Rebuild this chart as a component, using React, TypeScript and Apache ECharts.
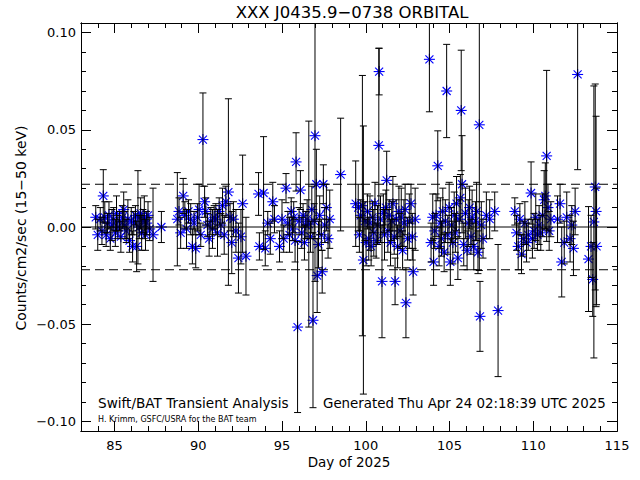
import React, { useEffect, useRef } from "react";
import * as echarts from "echarts";

// ---- data (day, rate, 1-sigma error) ----
const days = [
  83.88, 84.0, 84.15, 84.25, 84.33, 84.42, 84.5, 84.58, 84.67, 84.75, 84.85, 84.95, 85.05, 85.12, 85.2, 85.3, 85.38, 85.47, 85.55, 85.62,
  85.7, 85.8, 85.9, 86.0, 86.08, 86.15, 86.25, 86.32, 86.4, 86.48, 86.56, 86.62, 86.7, 86.78, 86.85, 86.92, 87.0, 87.1, 87.3, 87.8,
  88.75, 88.85, 88.95, 89.1, 89.2, 89.3, 89.42, 89.55, 89.65, 89.75, 89.85, 89.95, 90.05, 90.15, 90.28, 90.38, 90.45, 90.55, 90.65, 90.75,
  90.85, 90.95, 91.05, 91.15, 91.25, 91.35, 91.45, 91.55, 91.65, 91.8, 91.9, 92.0, 92.1, 92.25, 92.4, 92.55, 92.65, 92.85,
  93.6, 93.65, 93.9, 94.0, 94.15, 94.3, 94.45, 94.55,
  94.85, 95.0, 95.1, 95.24, 95.35, 95.45, 95.55, 95.62, 95.7, 95.78, 95.84, 95.93, 96.02, 96.1, 96.18, 96.26, 96.34, 96.42, 96.5, 96.6,
  96.7, 96.78, 96.85, 96.92, 96.97, 97.05, 97.1, 97.18, 97.25, 97.35, 97.4, 97.47, 97.55, 97.65, 97.75, 97.85, 98.5,
  99.4, 99.55, 99.62, 99.7, 99.8, 99.86, 99.95, 100.02, 100.1, 100.18, 100.25, 100.32, 100.4, 100.48, 100.55, 100.62, 100.7, 100.78, 100.8, 100.88,
  100.97, 101.05, 101.12, 101.2, 101.25, 101.32, 101.4, 101.48, 101.55, 101.62, 101.7, 101.75, 101.82, 101.9, 101.98, 102.05, 102.12, 102.2, 102.28, 102.35,
  102.4, 102.5, 102.6, 102.7, 102.78, 102.83, 102.95,
  103.8, 103.9, 104.0, 104.05, 104.12, 104.2, 104.3, 104.38, 104.45, 104.52, 104.6, 104.68, 104.75, 104.83, 104.9, 104.98, 105.05, 105.12, 105.2, 105.28,
  105.35, 105.42, 105.5, 105.58, 105.65, 105.7, 105.75, 105.85, 105.95, 106.05, 106.12, 106.2, 106.28, 106.35, 106.45, 106.55, 106.62, 106.7, 106.78, 106.82,
  106.9, 107.0, 107.2, 107.4, 107.7, 107.9,
  108.9, 109.0, 109.1, 109.2, 109.3, 109.4, 109.5, 109.6, 109.7, 109.87, 109.95, 110.05, 110.15, 110.25, 110.35, 110.45, 110.55, 110.65, 110.72, 110.8,
  110.88, 110.95, 111.05,
  111.45, 111.6, 111.7, 111.85, 112.0, 112.2, 112.3, 112.4, 112.5, 112.65,
  113.3, 113.45, 113.55, 113.62, 113.7, 113.75, 113.78,
];
const rates = [
  0.005, -0.004, 0.004, -0.002, 0.016, 0.005, -0.004, 0.002, 0.006, -0.006, 0.001, 0.004, -0.003, 0.007, 0.0, 0.003, -0.005, 0.005, 0.009, 0.001,
  -0.002, 0.004, -0.007, 0.003, -0.01, 0.002, 0.006, -0.01, 0.005, 0.0, 0.007, -0.003, 0.003, 0.005, -0.004, 0.002, 0.006, -0.001, -0.004, 0.0,
  0.004, 0.008, -0.003, 0.016, 0.006, -0.001, 0.008, 0.004, -0.01, 0.002, -0.011, 0.005, 0.009, -0.004, 0.045, 0.013, 0.008, 0.001, -0.006, 0.003,
  -0.001, 0.005, 0.004, -0.003, 0.008, 0.001, 0.011, -0.004, 0.013, 0.018, 0.005, -0.008, 0.004, -0.002, -0.016, -0.005, 0.012, -0.015,
  0.017, -0.01, 0.0175, -0.011, 0.002, -0.006, 0.013, 0.004,
  -0.01, 0.004, -0.006, 0.02, 0.002, -0.004, 0.008, -0.001, 0.005, -0.007, 0.0335, -0.0515, 0.003, 0.019, -0.003, 0.006, -0.008, 0.001, 0.004, 0.0015,
  -0.005, 0.009, -0.048, 0.003, 0.047, 0.022, -0.025, -0.009, 0.006, -0.004, -0.023, 0.022, 0.001, 0.01, -0.006, 0.004, 0.027,
  0.012, 0.01, -0.004, 0.006, 0.011, -0.017, 0.003, -0.008, 0.008, -0.006, 0.002, -0.01, 0.005, -0.003, 0.012, -0.007, 0.001, 0.042, 0.08, 0.004,
  -0.028, 0.007, -0.004, 0.01, 0.024, -0.002, 0.006, -0.008, 0.003, 0.012, -0.005, -0.028, 0.004, -0.01, 0.008, -0.002, 0.005, -0.012, 0.002, 0.009,
  -0.039, -0.006, 0.003, 0.012, -0.005, -0.023, 0.004,
  0.0863, -0.008, 0.005, -0.018, -0.002, 0.006, 0.0315, -0.01, 0.002, -0.006, 0.008, -0.013, 0.003, 0.07, -0.004, 0.01, -0.018, 0.001, -0.008, 0.006,
  -0.003, 0.012, -0.016, 0.004, 0.015, 0.06, 0.022, -0.009, 0.007, -0.012, 0.002, 0.01, -0.005, 0.005, -0.01, 0.003, 0.008, -0.013, 0.0526, -0.046,
  0.001, -0.006, 0.006, 0.004, 0.008, -0.043,
  0.008, -0.003, -0.01, 0.004, -0.014, -0.006, 0.002, -0.008, -0.004, 0.0175, -0.006, -0.002, 0.005, -0.004, 0.001, -0.003, 0.006, 0.014, 0.016, 0.0366,
  0.01, -0.002, 0.004,
  0.004, 0.012, -0.018, -0.008, 0.005, -0.006, 0.001, -0.011, 0.008, 0.0785,
  -0.0165, -0.01, -0.027, 0.0026, 0.0206, 0.008, -0.01,
];
const errs = [
  0.006, 0.008, 0.006, 0.007, 0.0135, 0.008, 0.006, 0.005, 0.007, 0.006, 0.008, 0.006, 0.007, 0.009, 0.006, 0.005, 0.008, 0.006, 0.009, 0.007,
  0.006, 0.01, 0.006, 0.007, 0.008, 0.006, 0.005, 0.013, 0.024, 0.006, 0.008, 0.009, 0.006, 0.011, 0.008, 0.006, 0.007, 0.006, 0.024, 0.008,
  0.024, 0.007, 0.008, 0.009, 0.007, 0.01, 0.006, 0.008, 0.009, 0.006, 0.01, 0.007, 0.013, 0.006, 0.024, 0.008, 0.007, 0.006, 0.009, 0.007,
  0.01, 0.006, 0.008, 0.012, 0.007, 0.006, 0.009, 0.01, 0.008, 0.048, 0.007, 0.016, 0.009, 0.011, 0.018, 0.014, 0.025, 0.02,
  0.011, 0.007, 0.029, 0.009, 0.006, 0.008, 0.01, 0.007,
  0.008, 0.01, 0.007, 0.0075, 0.006, 0.009, 0.007, 0.006, 0.008, 0.011, 0.015, 0.044, 0.007, 0.01, 0.008, 0.006, 0.009, 0.007, 0.01, 0.053,
  0.008, 0.012, 0.045, 0.009, 0.075, 0.018, 0.019, 0.012, 0.01, 0.008, 0.011, 0.01, 0.009, 0.012, 0.01, 0.015, 0.029,
  0.022, 0.012, 0.009, 0.008, 0.067, 0.069, 0.01, 0.012, 0.009, 0.011, 0.014, 0.01, 0.008, 0.012, 0.011, 0.009, 0.01, 0.05, 0.012, 0.012,
  0.029, 0.01, 0.013, 0.009, 0.015, 0.011, 0.008, 0.012, 0.01, 0.014, 0.009, 0.012, 0.01, 0.011, 0.013, 0.009, 0.015, 0.01, 0.012, 0.013,
  0.018, 0.011, 0.014, 0.01, 0.012, 0.012, 0.016,
  0.027, 0.01, 0.012, 0.012, 0.009, 0.011, 0.018, 0.01, 0.013, 0.009, 0.012, 0.01, 0.011, 0.024, 0.01, 0.013, 0.012, 0.009, 0.011, 0.012,
  0.01, 0.014, 0.011, 0.01, 0.012, 0.031, 0.025, 0.011, 0.013, 0.01, 0.012, 0.011, 0.009, 0.014, 0.012, 0.01, 0.015, 0.011, 0.075, 0.018,
  0.012, 0.01, 0.012, 0.01, 0.01, 0.034,
  0.007, 0.009, 0.012, 0.008, 0.01, 0.009, 0.011, 0.01, 0.008, 0.016, 0.01, 0.009, 0.012, 0.008, 0.01, 0.009, 0.011, 0.015, 0.017, 0.044,
  0.012, 0.01, 0.009,
  0.012, 0.01, 0.018, 0.011, 0.013, 0.012, 0.01, 0.014, 0.012, 0.049,
  0.027, 0.016, 0.019, 0.07, 0.053, 0.049, 0.03,
];

const thresholds = [0.022, -0.022];

// ---- axis ticks / labels ----
const xRange = [83, 115];
const yRange = [-0.105, 0.105];
const xMajor = [85, 90, 95, 100, 105, 110, 115];
const xMajorLabels = ["85", "90", "95", "100", "105", "110", "115"];
const xMinor = [83, 84, 85, 86, 87, 88, 89, 90, 91, 92, 93, 94, 95, 96, 97, 98, 99, 100, 101, 102, 103, 104, 105, 106, 107, 108, 109, 110, 111, 112, 113, 114, 115];
const yMajor = [-0.1, -0.05, 0, 0.05, 0.1];
const yMajorLabels = ["\u22120.10", "\u22120.05", "0.00", "0.05", "0.10"];
const yMinor = [-0.1, -0.09, -0.08, -0.07, -0.06, -0.05, -0.04, -0.03, -0.02, -0.01, 0, 0.01, 0.02, 0.03, 0.04, 0.05, 0.06, 0.07, 0.08, 0.09, 0.1];

const titleText = "XXX J0435.9\u22120738 ORBITAL";
const yTitle = "Counts/cm2/sec (15\u221250 keV)";
const xTitle = "Day of 2025";
const note1 = "Swift/BAT Transient Analysis";
const note2 = "H. Krimm, GSFC/USRA for the BAT team";
const note3 = "Generated Thu Apr 24 02:18:39 UTC 2025";

const FONT = "DejaVu Sans";

function lookup(vals: number[], labels: string[], v: number) {
  const i = vals.findIndex((t) => Math.abs(t - v) < 1e-9);
  return i >= 0 ? labels[i] : "";
}

function makeX(position: "top" | "bottom", values: number[], len: number, labels: boolean) {
  return {
    type: "value",
    position,
    min: xRange[0],
    max: xRange[1],
    axisLine: { show: true, onZero: false, lineStyle: { color: "#000", width: 1 } },
    axisTick: { show: true, inside: true, length: len, customValues: values, lineStyle: { color: "#000", width: 1 } },
    axisLabel: labels
      ? {
          show: true,
          customValues: xMajor,
          formatter: (v: number) => lookup(xMajor, xMajorLabels, v),
          color: "#000",
          fontFamily: FONT,
          fontSize: 13,
          margin: 8,
          showMinLabel: true,
          showMaxLabel: true,
        }
      : { show: false },
    splitLine: { show: false },
  };
}

function makeY(position: "left" | "right", values: number[], len: number, labels: boolean) {
  return {
    type: "value",
    position,
    min: yRange[0],
    max: yRange[1],
    axisLine: { show: true, onZero: false, lineStyle: { color: "#000", width: 1 } },
    axisTick: { show: true, inside: true, length: len, customValues: values, lineStyle: { color: "#000", width: 1 } },
    axisLabel: labels
      ? {
          show: true,
          customValues: yMajor,
          formatter: (v: number) => lookup(yMajor, yMajorLabels, v),
          color: "#000",
          fontFamily: FONT,
          fontSize: 13,
          margin: 5,
          showMinLabel: true,
          showMaxLabel: true,
        }
      : { show: false },
    splitLine: { show: false },
  };
}

export default function App() {
  const ref = useRef<HTMLDivElement>(null);
  useEffect(() => {
    if (!ref.current) return;
    const chart = echarts.init(ref.current, null, { renderer: "svg" });
    const pts = days.map((d, i) => [d, rates[i], errs[i]]);
    const lineStyleBlack = { stroke: "#000", lineWidth: 1, fill: null };
    const starStyle = { stroke: "#0000ff", lineWidth: 1.1, fill: null };

    const option: any = {
      animation: false,
      backgroundColor: "#fff",
      grid: { left: 81, right: 23, top: 23, bottom: 49, containLabel: false },
      xAxis: [
        makeX("bottom", xMajor, 10, true),
        makeX("bottom", xMinor, 5, false),
        makeX("top", xMajor, 10, false),
        makeX("top", xMinor, 5, false),
      ],
      yAxis: [
        makeY("left", yMajor, 10, true),
        makeY("left", yMinor, 5, false),
        makeY("right", yMajor, 10, false),
        makeY("right", yMinor, 5, false),
      ],
      series: [
        {
          type: "line",
          data: [[xRange[0], 0], [xRange[1], 0]],
          symbol: "none",
          lineStyle: { color: "#000", width: 1 },
          silent: true,
        },
        ...thresholds.map((t) => ({
          type: "line",
          data: [[xRange[0], t], [xRange[1], t]],
          symbol: "none",
          lineStyle: { color: "#000", width: 1, type: [9, 5] },
          silent: true,
        })),
        {
          type: "custom",
          clip: true,
          data: pts,
          encode: { x: 0, y: 1 },
          renderItem: (params: any, api: any) => {
            const p = api.coord([api.value(0), api.value(1)]);
            const a = 5.5;
            const d = 4;
            return {
              type: "group",
              children: [
                { type: "line", shape: { x1: p[0] - a, y1: p[1], x2: p[0] + a, y2: p[1] }, style: starStyle },
                { type: "line", shape: { x1: p[0], y1: p[1] - a, x2: p[0], y2: p[1] + a }, style: starStyle },
                { type: "line", shape: { x1: p[0] - d, y1: p[1] - d, x2: p[0] + d, y2: p[1] + d }, style: starStyle },
                { type: "line", shape: { x1: p[0] - d, y1: p[1] + d, x2: p[0] + d, y2: p[1] - d }, style: starStyle },
              ],
            };
          },
        },
        {
          type: "custom",
          clip: true,
          data: pts,
          encode: { x: 0, y: 1 },
          renderItem: (params: any, api: any) => {
            const x = api.value(0);
            const y = api.value(1);
            const e = api.value(2);
            const top = api.coord([x, y + e]);
            const bot = api.coord([x, y - e]);
            const c = 3.5;
            return {
              type: "group",
              children: [
                { type: "line", shape: { x1: top[0], y1: top[1], x2: bot[0], y2: bot[1] }, style: lineStyleBlack },
                { type: "line", shape: { x1: top[0] - c, y1: top[1], x2: top[0] + c, y2: top[1] }, style: lineStyleBlack },
                { type: "line", shape: { x1: bot[0] - c, y1: bot[1], x2: bot[0] + c, y2: bot[1] }, style: lineStyleBlack },
              ],
            };
          },
        },
      ],
      graphic: [
        {
          type: "text",
          x: 352,
          y: 12,
          style: { text: titleText, align: "center", verticalAlign: "middle", fontFamily: FONT, fontSize: 16.5, fill: "#000" },
        },
        {
          type: "text",
          x: 21,
          y: 228,
          rotation: Math.PI / 2,
          style: { text: yTitle, align: "center", verticalAlign: "middle", fontFamily: FONT, fontSize: 14, fill: "#000" },
        },
        {
          type: "text",
          x: 349,
          y: 462,
          style: { text: xTitle, align: "center", verticalAlign: "middle", fontFamily: FONT, fontSize: 13.5, fill: "#000" },
        },
        {
          type: "text",
          x: 98,
          y: 403,
          style: { text: note1, align: "left", verticalAlign: "middle", fontFamily: FONT, fontSize: 13.6, fill: "#000" },
          z: 100,
        },
        {
          type: "text",
          x: 98,
          y: 419,
          style: { text: note2, align: "left", verticalAlign: "middle", fontFamily: FONT, fontSize: 8, fill: "#000" },
          z: 100,
        },
        {
          type: "text",
          x: 323,
          y: 403,
          style: { text: note3, align: "left", verticalAlign: "middle", fontFamily: FONT, fontSize: 13.4, fill: "#000" },
          z: 100,
        },
      ],
    };
    chart.setOption(option);
    return () => chart.dispose();
  }, []);
  return <div ref={ref} style={{ position: "fixed", left: 0, top: 0, width: 640, height: 480, background: "#fff" }} />;
}
